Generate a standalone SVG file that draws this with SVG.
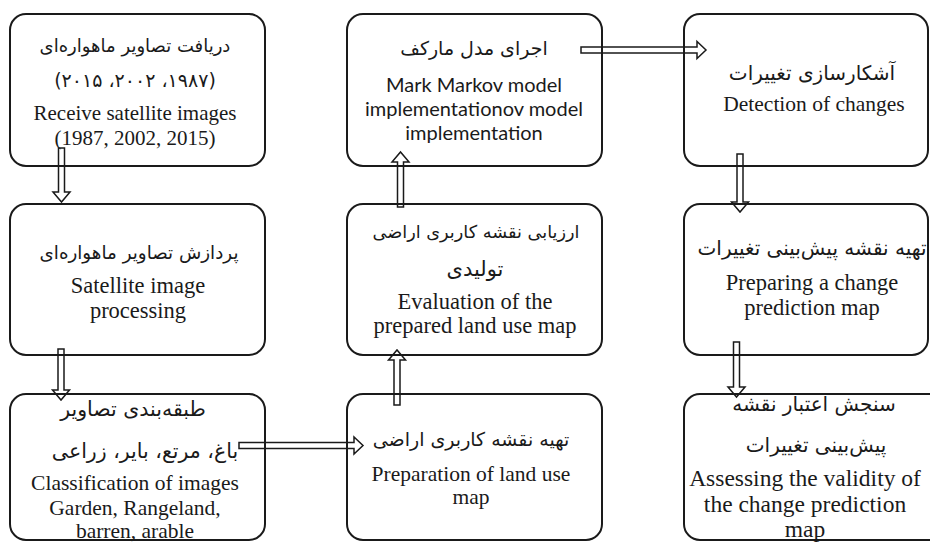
<svg xmlns="http://www.w3.org/2000/svg" width="930" height="543" viewBox="0 0 930 543">
<style>
.box{fill:#fff;stroke:#1a1a1a;stroke-width:2}
.arr{fill:none;stroke:#1a1a1a;stroke-width:1.5;stroke-linejoin:miter}
.en{font-family:"Liberation Serif","Times New Roman",serif;font-size:21.5px;fill:#1a1a1a;text-anchor:middle}
.sn{font-family:Lato,"Open Sans",sans-serif;font-size:20px;fill:#1a1a1a;text-anchor:middle}
.fa{font-family:"DejaVu Sans","Noto Sans",sans-serif;font-size:19px;fill:#1a1a1a;text-anchor:middle}
.num{unicode-bidi:bidi-override;direction:ltr}
</style>
<rect width="930" height="543" fill="#fff"/>
<g id="n1">
<rect class="box" x="10" y="14" width="255" height="152" rx="16"/>
<text class="fa" x="135" y="52" style="font-size:18px">دریافت تصاویر ماهواره‌ای</text>
<text class="fa num" x="135" y="87">&#x202D;(۲۰۱۵ ،۲۰۰۲ ،۱۹۸۷)&#x202C;</text>
<text class="en" x="135" y="120" style="font-size:21px">Receive satellite images</text>
<text class="en" x="135" y="145" style="font-size:21px">(1987, 2002, 2015)</text>
</g>
<g id="n2">
<rect class="box" x="347" y="14" width="255" height="152" rx="16"/>
<text class="fa" x="474" y="55">اجرای مدل مارکف</text>
<text class="sn" x="474" y="92">Mark Markov model</text>
<text class="sn" x="474" y="116">implementationov model</text>
<text class="sn" x="474" y="140">implementation</text>
</g>
<g id="n3">
<rect class="box" x="684" y="14" width="244" height="152" rx="16"/>
<text class="fa" x="812" y="80" style="font-size:20px">آشکارسازی تغییرات</text>
<text class="en" x="814" y="111">Detection of changes</text>
</g>
<g id="n4">
<rect class="box" x="10" y="204" width="255" height="151" rx="16"/>
<text class="fa" x="139" y="259" style="font-size:18.3px">پردازش تصاویر ماهواره‌ای</text>
<text class="en" x="138" y="293" style="font-size:22.5px">Satellite image</text>
<text class="en" x="138" y="318" style="font-size:22.5px">processing</text>
</g>
<g id="n5">
<rect class="box" x="347" y="204" width="255" height="151" rx="16"/>
<text class="fa" x="476" y="238" style="font-size:17.7px">ارزیابی نقشه کاربری اراضی</text>
<text class="fa" x="475" y="276" style="font-size:21px">تولیدی</text>
<text class="en" x="475" y="309" style="font-size:22.5px">Evaluation of the</text>
<text class="en" x="475" y="333" style="font-size:22.5px">prepared land use map</text>
</g>
<g id="n6">
<rect class="box" x="684" y="204" width="244" height="151" rx="16"/>
<text class="fa" x="812" y="255" style="font-size:20px">تهیه نقشه پیش‌بینی تغییرات</text>
<text class="en" x="812" y="290" style="font-size:22.5px">Preparing a change</text>
<text class="en" x="812" y="315" style="font-size:22.5px">prediction map</text>
</g>
<g id="n7">
<rect class="box" x="10" y="394" width="255" height="146" rx="16"/>
<text class="fa" x="133" y="416" style="font-size:20.5px">طبقه‌بندی تصاویر</text>
<text class="fa" x="145" y="458" style="font-size:20.5px">باغ، مرتع، بایر، زراعی</text>
<text class="en" x="135" y="490">Classification of images</text>
<text class="en" x="135" y="515">Garden, Rangeland,</text>
<text class="en" x="135" y="538">barren, arable</text>
</g>
<g id="n8">
<rect class="box" x="347" y="394" width="255" height="146" rx="16"/>
<text class="fa" x="471" y="446">تهیه نقشه کاربری اراضی</text>
<text class="en" x="471" y="481">Preparation of land use</text>
<text class="en" x="471" y="504">map</text>
</g>
<g id="n9">
<rect class="box" x="684" y="394" width="262" height="146" rx="16"/>
<text class="fa" x="814" y="411" style="font-size:20px">سنجش اعتبار نقشه</text>
<text class="fa" x="816" y="452" style="font-size:20px">پیش‌بینی تغییرات</text>
<text class="en" x="805" y="486" style="font-size:23.5px">Assessing the validity of</text>
<text class="en" x="805" y="512" style="font-size:23.5px">the change prediction</text>
<text class="en" x="805" y="537" style="font-size:23.5px">map</text>
</g>
<g id="connectors">
<path class="arr" d="M58.5,148 H64.5 V192 H70 L61.5,202 L53,192 H58.5 Z"/>
<path class="arr" d="M58,349 H64 V390 H69.5 L61,400 L52.5,390 H58 Z"/>
<path class="arr" d="M239,442.5 H354 V437 L363,445.5 L354,454 V448.5 H239 Z"/>
<path class="arr" d="M394,405 V360 H388.5 L397,350 L405.5,360 H400 V405 Z"/>
<path class="arr" d="M397.5,207 V162 H392 L400.5,152 L409,162 H403.5 V207 Z"/>
<path class="arr" d="M581,47 H697 V41.5 L706,50 L697,58.5 V53 H581 Z"/>
<path class="arr" d="M737,154 H743 V202 H748.5 L740,212 L731.5,202 H737 Z"/>
<path class="arr" d="M733.5,342 H739.5 V387 H745 L736.5,397 L728,387 H733.5 Z"/>
</g>
</svg>
